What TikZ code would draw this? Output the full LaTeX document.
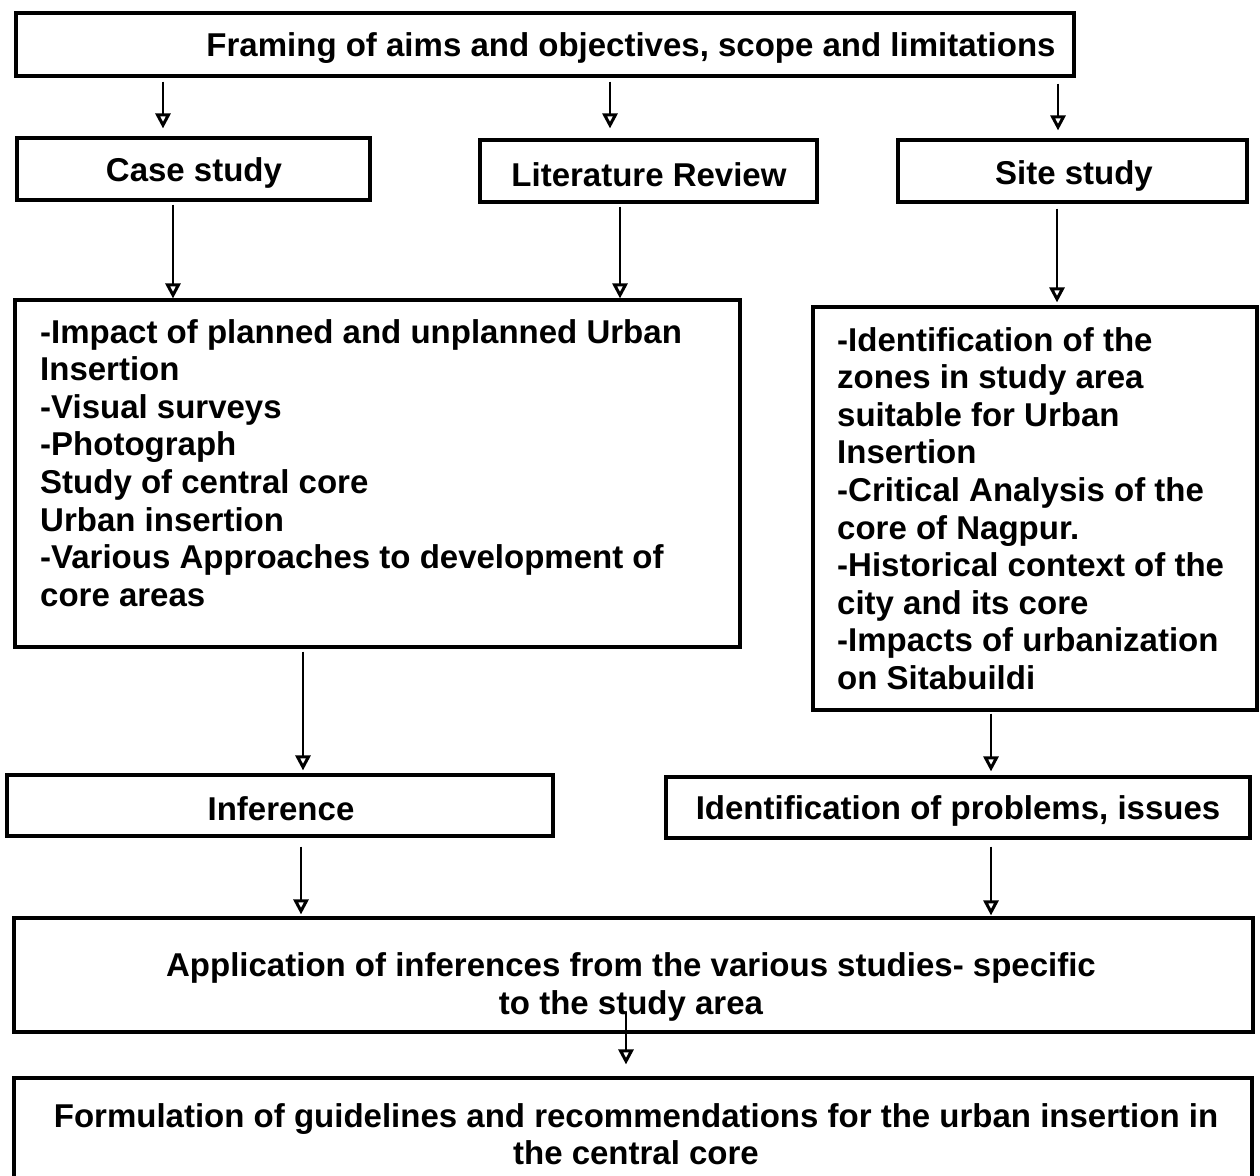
\documentclass[tikz,border=0pt]{standalone}
\usepackage{fontspec}
\setmainfont{Liberation Sans}
\usetikzlibrary{arrows.meta}
\begin{document}
\begin{tikzpicture}[x=1pt,y=-1pt,
  box/.style={draw, line width=3.2pt, inner sep=0pt, anchor=center},
  txt/.style={inner sep=0pt, font=\fontsize{33}{37.6}\selectfont\bfseries},
  arr/.style={line width=2pt, -{Triangle[open,length=15pt,width=15pt,line width=3pt]}}]
\useasboundingbox (0,0) rectangle (1260,1175);
\clip (0,0) rectangle (1260,1175);
\fill[white] (0,0) rectangle (1260,1175);
% boxes
\node[box, minimum width=1058pt, minimum height=63pt] (top) at (545,44.5) {};
\node[box, minimum width=353pt, minimum height=62pt] (case) at (193.5,169) {};
\node[box, minimum width=337pt, minimum height=62pt] (lit) at (648.5,171) {};
\node[box, minimum width=349pt, minimum height=62pt] (site) at (1072.5,171) {};
\node[box, minimum width=725pt, minimum height=347pt] (left) at (377.5,473.5) {};
\node[box, minimum width=444pt, minimum height=403pt] (right) at (1035,508.5) {};
\node[box, minimum width=546pt, minimum height=61pt] (inf) at (280,805.5) {};
\node[box, minimum width=584pt, minimum height=61pt] (ident) at (958,807.5) {};
\node[box, minimum width=1239pt, minimum height=114pt] (app) at (633.5,975) {};
\node[box, minimum width=1238pt, minimum height=122pt] (form) at (633,1139) {};
% texts
\node[txt] (ttop) at (631,48) {Framing of aims and objectives, scope and limitations};
\node[txt] (tcase) at (194,173) {Case study};
\node[txt] (tlit) at (649,175) {Literature Review};
\node[txt] (tsite) at (1074,176) {Site study};
\node[txt, anchor=north west, align=left] (tleft) at (40,319) {-Impact of planned and unplanned Urban\\Insertion\\-Visual surveys\\-Photograph\\Study of central core\\Urban insertion\\-Various Approaches to development of\\core areas};
\node[txt, anchor=north west, align=left] (tright) at (837,327) {-Identification of the\\zones in study area\\suitable for Urban\\Insertion\\-Critical Analysis of the\\core of Nagpur.\\-Historical context of the\\city and its core\\-Impacts of urbanization\\on Sitabuildi};
\node[txt] (tinf) at (281,809) {Inference};
\node[txt] (tident) at (958,811) {Identification of problems, issues};
\node[txt, align=center] (tapp) at (631,987) {Application of inferences from the various studies- specific\\to the study area};
\node[txt, align=center] (tform) at (636,1134) {Formulation of guidelines and recommendations for the urban insertion in\\the central core};
% arrow columns
\coordinate (c1) at (163,0);
\coordinate (c2) at (610,0);
\coordinate (c3) at (1058,0);
\coordinate (c4) at (173,0);
\coordinate (c5) at (620,0);
\coordinate (c6) at (1057,0);
\coordinate (c7) at (303,0);
\coordinate (c8) at (991,0);
\coordinate (c9) at (301,0);
\coordinate (c10) at (626,0);
% connectors
\draw[arr, shorten <=4pt, shorten >=8pt] (top.south -| c1) -- (case.north -| c1);
\draw[arr, shorten <=4pt, shorten >=10pt] (top.south -| c2) -- (lit.north -| c2);
\draw[arr, shorten <=6pt, shorten >=8pt] (top.south -| c3) -- (site.north -| c3);
\draw[arr, shorten <=3pt] (case.south -| c4) -- (left.north -| c4);
\draw[arr, shorten <=3pt] (lit.south -| c5) -- (left.north -| c5);
\draw[arr, shorten <=5pt, shorten >=3pt] (site.south -| c6) -- (right.north -| c6);
\draw[arr, shorten <=3pt, shorten >=3pt] (left.south -| c7) -- (inf.north -| c7);
\draw[arr, shorten <=2pt, shorten >=4pt] (right.south -| c8) -- (ident.north -| c8);
\draw[arr, shorten <=9pt, shorten >=2pt] (inf.south -| c9) -- (app.north -| c9);
\draw[arr, shorten <=7pt, shorten >=1pt] (ident.south -| c8) -- (app.north -| c8);
\draw[arr, shorten <=-22pt, shorten >=12pt] (app.south -| c10) -- (form.north -| c10);
\end{tikzpicture}
\end{document}
